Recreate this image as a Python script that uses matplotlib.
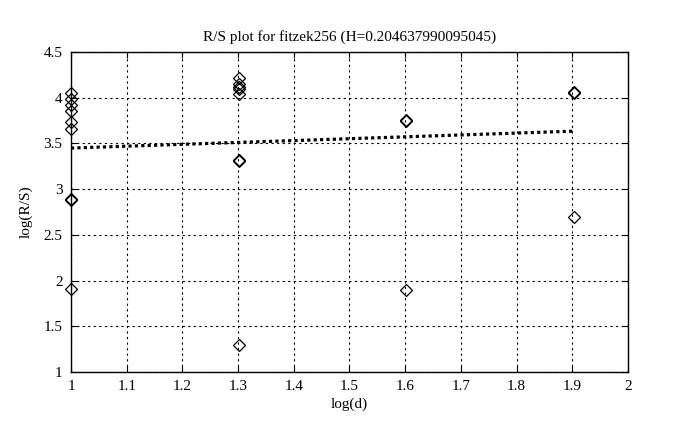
import numpy as np
import matplotlib
matplotlib.use("Agg")
import matplotlib.pyplot as plt

# ----------------------------------------
# Data
# ----------------------------------------
log_d_10 = 1.0
log_d_20 = 1.30103
log_d_40 = 1.60206
log_d_80 = 1.90309

rs_10 = [4.05, 3.99, 3.92, 3.85, 3.73, 3.66, 2.88, 2.89, 1.91]
rs_20 = [4.22, 4.15, 4.12, 4.10, 4.04, 3.31, 3.32, 1.29]
rs_40 = [3.75, 3.76, 1.90]
rs_80 = [4.05, 4.06, 2.69]

hurst = 0.204637990095045
intercept = 3.245
title_text = "R/S plot for fitzek256 (H=%s)" % repr(hurst)

x_ticks = [1, 1.1, 1.2, 1.3, 1.4, 1.5, 1.6, 1.7, 1.8, 1.9, 2]
x_tick_labels = ["1", "1.1", "1.2", "1.3", "1.4", "1.5", "1.6", "1.7", "1.8", "1.9", "2"]
y_ticks = [1, 1.5, 2, 2.5, 3, 3.5, 4, 4.5]
y_tick_labels = ["1", "1.5", "2", "2.5", "3", "3.5", "4", "4.5"]

# ----------------------------------------
# Build point arrays
# ----------------------------------------
xs = ([log_d_10] * len(rs_10) + [log_d_20] * len(rs_20)
      + [log_d_40] * len(rs_40) + [log_d_80] * len(rs_80))
ys = rs_10 + rs_20 + rs_40 + rs_80

plt.rcParams["font.family"] = ["Liberation Serif", "DejaVu Serif"]

fig = plt.figure(figsize=(6.78, 4.30), dpi=100)
ax = fig.add_axes([0.1047, 0.1349, 0.8215, 0.7441])

# scatter of R/S values (not clipped, points sit on the left edge)
ax.plot(xs, ys, linestyle="none", marker="D", markersize=6,
        markerfacecolor="none", markeredgecolor="black", markeredgewidth=0.9,
        clip_on=False, zorder=5)

# fitted line
fit_x = np.array([log_d_10, log_d_80])
ax.plot(fit_x, intercept + hurst * fit_x, color="black",
        linestyle=(0, (1, 1)), linewidth=2.3)

ax.set_xlim(1, 2)
ax.set_ylim(1, 4.5)
ax.set_xticks(x_ticks)
ax.set_xticklabels(x_tick_labels)
ax.set_yticks(y_ticks)
ax.set_yticklabels(y_tick_labels)
ax.tick_params(direction="in", length=4, labelsize=11, top=True, right=True,
               width=0.8, pad=6)
ax.grid(True, color="black", linestyle=(0, (2, 3)), linewidth=0.8)
for spine in ax.spines.values():
    spine.set_linewidth(1.0)

ax.set_title(title_text, fontsize=11, pad=8)
ax.set_xlabel("log(d)", fontsize=11, labelpad=3)
ax.set_ylabel("log(R/S)", fontsize=11, labelpad=8)

fig.savefig("out.png", dpi=100)
